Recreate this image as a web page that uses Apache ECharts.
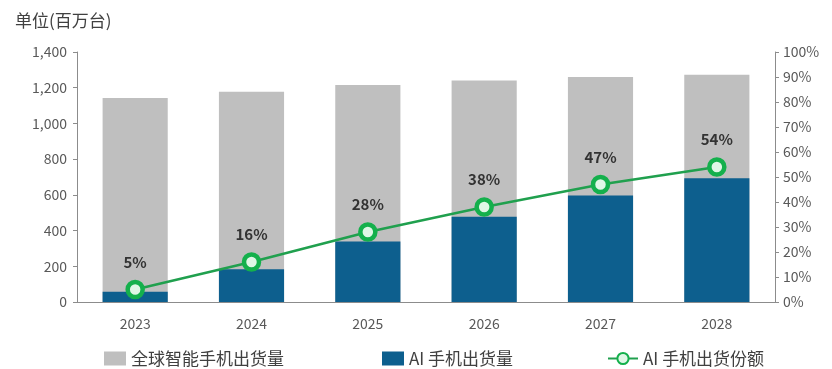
<!DOCTYPE html>
<html>
<head>
<meta charset="utf-8">
<script src="https://cdn.jsdelivr.net/npm/echarts@6/dist/echarts.min.js"></script>
<style>
  html, body { margin: 0; padding: 0; background: #fff; }
  #chart { width: 832px; height: 369px; }
</style>
</head>
<body>
<div id="chart"></div>
<script>
// Years on the category axis
const years = ['2023', '2024', '2025', '2026', '2027', '2028'];
// Global smartphone shipments (million units)
const totalShipments = [1142, 1177, 1215, 1240, 1260, 1272];
// AI phone shipments (million units)
const aiShipments = [58, 184, 339, 477, 597, 693];
// AI phone share of shipments (%)
const aiShare = [5, 16, 28, 38, 47, 54];

const FONT = '"Noto Sans CJK SC", "Noto Sans", sans-serif';
const chart = echarts.init(document.getElementById('chart'), null, { renderer: 'canvas' });

const legendText = { fontFamily: FONT, fontSize: 17, color: '#404040' };

chart.setOption({
  animation: false,
  backgroundColor: '#ffffff',
  textStyle: { fontFamily: FONT },
  title: {
    text: '单位(百万台)',
    left: 10, top: 7,
    textStyle: { fontFamily: FONT, fontSize: 17, fontWeight: 'normal', color: '#404040' }
  },
  grid: { left: 77, right: 57, top: 52, bottom: 67 },
  legend: [
    {
      data: [{ name: '全球智能手机出货量', icon: 'rect' }], left: 99, top: 345,
      itemWidth: 22, itemHeight: 14,
      textStyle: legendText
    },
    {
      data: [{ name: 'AI 手机出货量', icon: 'rect' }], left: 377, top: 345,
      itemWidth: 22, itemHeight: 14,
      textStyle: legendText
    },
    {
      data: ['AI 手机出货份额'], left: 602, top: 345,
      itemWidth: 30, itemHeight: 14,
      textStyle: legendText
    }
  ],
  xAxis: {
    type: 'category',
    data: years,
    axisLine: { lineStyle: { color: '#8c8c8c', width: 1 } },
    axisTick: { show: false },
    axisLabel: { color: '#595959', fontSize: 14, margin: 15, fontFamily: FONT }
  },
  yAxis: [
    {
      type: 'value', min: 0, max: 1400, interval: 200,
      axisLine: { show: true, lineStyle: { color: '#8c8c8c' } },
      axisTick: { show: true, inside: false, length: 4, lineStyle: { color: '#8c8c8c' } },
      splitLine: { show: false },
      axisLabel: {
        color: '#595959', fontSize: 14, margin: 10, fontFamily: FONT,
        formatter: v => v.toLocaleString('en-US')
      }
    },
    {
      type: 'value', min: 0, max: 100, interval: 10, position: 'right',
      axisLine: { show: true, lineStyle: { color: '#8c8c8c' } },
      axisTick: { show: true, inside: false, length: 4, lineStyle: { color: '#8c8c8c' } },
      splitLine: { show: false },
      axisLabel: { color: '#595959', fontSize: 14, margin: 8, fontFamily: FONT, formatter: '{value}%' }
    }
  ],
  series: [
    {
      name: '全球智能手机出货量',
      type: 'bar',
      data: totalShipments,
      barWidth: '56%',
      barGap: '-100%',
      itemStyle: { color: '#bfbfbf' },
      z: 1
    },
    {
      name: 'AI 手机出货量',
      type: 'bar',
      data: aiShipments,
      barWidth: '56%',
      itemStyle: { color: '#0d5f8e' },
      z: 2
    },
    {
      name: 'AI 手机出货份额',
      type: 'line',
      yAxisIndex: 1,
      data: aiShare,
      symbol: 'circle',
      symbolSize: 15,
      lineStyle: { color: '#20a04e', width: 2.5 },
      itemStyle: { color: '#dff7e6', borderColor: '#14b04c', borderWidth: 4.5 },
      label: {
        show: true, position: 'top', distance: 10,
        formatter: p => p.value + '%',
        fontFamily: FONT, fontSize: 15, fontWeight: 'bold', color: '#333333'
      },
      z: 5
    }
  ]
});
</script>
</body>
</html>
